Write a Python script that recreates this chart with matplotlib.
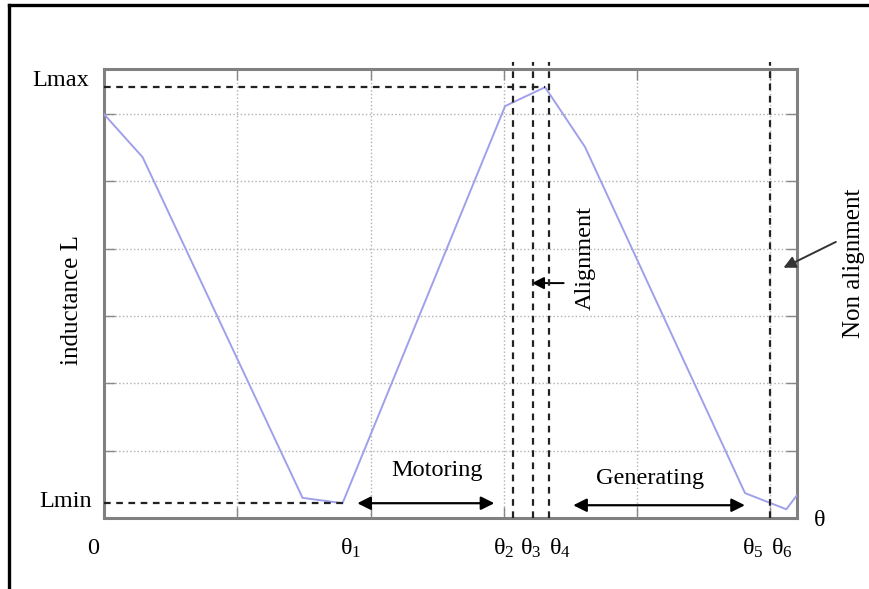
import matplotlib
matplotlib.use("Agg")
import matplotlib.pyplot as plt
from matplotlib.lines import Line2D

plt.rcParams["font.family"] = ["Liberation Serif", "DejaVu Serif"]
plt.rcParams["mathtext.fontset"] = "custom"
plt.rcParams["mathtext.rm"] = "Liberation Serif"
plt.rcParams["mathtext.it"] = "Liberation Serif"

# inductance profile over one rotor pitch (grid units)
theta = [0.0, 0.29, 1.49, 1.79, 3.01, 3.31, 3.61, 4.81, 5.12, 5.20]
inductance = [6.0, 5.36, 0.30, 0.22, 6.12, 6.40, 5.51, 0.37, 0.13, 0.34]

L_MAX = 6.40
L_MIN = 0.22
theta_marks = [3.07, 3.22, 3.34, 5.0]          # dashed boundary lines
theta_labels = ["0", r"$\mathrm{\theta}_1$", r"$\mathrm{\theta}_2$", r"$\mathrm{\theta}_3$",
                r"$\mathrm{\theta}_4$", r"$\mathrm{\theta}_5$", r"$\mathrm{\theta}_6$"]
theta_label_pos = [-0.08, 1.85, 3.0, 3.2, 3.42, 4.87, 5.09]
motoring_span = (1.88, 2.95)
generating_span = (3.50, 4.83)

fig = plt.figure(figsize=(8.7, 5.89), dpi=100)
ax = fig.add_axes([0.1195, 0.1205, 0.7966, 0.7623])
ax.set_xlim(0, 5.2)
ax.set_ylim(0, 6.67)

ax.set_xticks([1, 2, 3, 4, 5])
ax.set_yticks([1, 2, 3, 4, 5, 6])
ax.tick_params(direction="in", length=8, color="#888888", width=1,
               labelbottom=False, labelleft=False, top=True, right=True)
ax.grid(True, linestyle=":", color="#b0b0b0", linewidth=1.0)
for sp in ax.spines.values():
    sp.set_color("#808080")
    sp.set_linewidth(2.2)

ax.plot(theta, inductance, color="#a0a0ea", linewidth=1.4, zorder=3)

dash = dict(color="#222222", linewidth=1.6, linestyle=(0, (3, 2.5)), zorder=4)
peak_x = theta[inductance.index(max(inductance))]
ax.plot([0, peak_x], [L_MAX, L_MAX], **dash)
ax.plot([0, theta[3]], [L_MIN, L_MIN], **dash)
for m in theta_marks:
    ax.plot([m, m], [0, 6.78], clip_on=False, **dash)

arrow = dict(arrowstyle="<|-|>", color="black", lw=1.6, mutation_scale=20)
ax.annotate("", xy=(motoring_span[0], L_MIN), xytext=(motoring_span[1], L_MIN), arrowprops=arrow)
ax.annotate("", xy=(generating_span[0], 0.19), xytext=(generating_span[1], 0.19), arrowprops=arrow)
ax.text(2.50, 0.70, "Motoring", ha="center", va="center", fontsize=17.5)
ax.text(4.10, 0.58, "Generating", ha="center", va="center", fontsize=17.5)

single = dict(arrowstyle="-|>", color="black", lw=1.4, mutation_scale=18)
ax.annotate("", xy=(3.19, 3.49), xytext=(3.47, 3.49), arrowprops=single)
ax.text(3.61, 3.86, "Alignment", rotation=90, ha="center", va="center", fontsize=17.5)
ax.annotate("", xy=(5.08, 3.70), xytext=(5.51, 4.12), arrowprops=dict(single, color="#333333"),
            annotation_clip=False)
ax.text(5.63, 3.79, "Non alignment", rotation=90, ha="center", va="center", fontsize=18,
        clip_on=False)

ax.text(-0.24, 3.24, "inductance L", rotation=90, ha="center", va="center", fontsize=18)
ax.text(-0.11, L_MAX + 0.1, "Lmax", ha="right", va="center", fontsize=17.5)
ax.text(-0.09, L_MIN + 0.03, "Lmin", ha="right", va="center", fontsize=17.5)
ax.text(5.37, -0.03, "θ", ha="center", va="center", fontsize=17.5)
for lab, pos in zip(theta_labels, theta_label_pos):
    ax.text(pos, -0.45, lab, ha="center", va="center", fontsize=17.5)

# outer frame of the figure (top and left edges)
fig.add_artist(Line2D([0.0105, 1.0], [0.9915, 0.9915], color="black", linewidth=2.4))
fig.add_artist(Line2D([0.0105, 0.0105], [0.0, 0.9915], color="black", linewidth=2.4))

fig.savefig("out.png", dpi=100)
